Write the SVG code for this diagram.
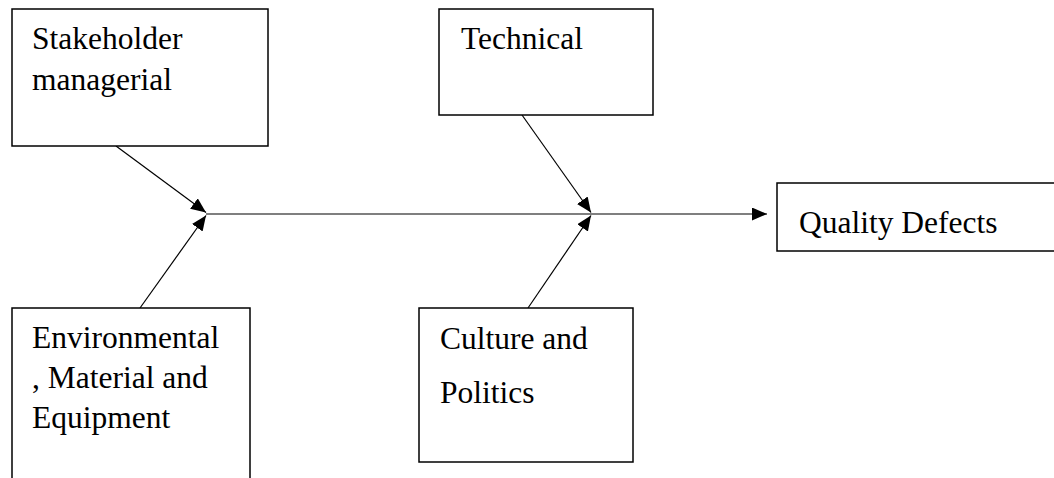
<svg xmlns="http://www.w3.org/2000/svg" width="1054" height="478" viewBox="0 0 1054 478">
  <style>
    .box { fill: #ffffff; stroke: #000000; stroke-width: 1.5; }
    .label { font-family: "Liberation Serif", "Times New Roman", serif; font-size: 31.5px; fill: #000000; }
    .conn { stroke: #000000; stroke-width: 1.2; fill: none; marker-end: url(#arrow); }
  </style>
  <defs>
    <marker id="arrow" markerUnits="userSpaceOnUse" markerWidth="16" markerHeight="14" refX="15" refY="6.5" orient="auto">
      <path d="M0,0 L15,6.5 L0,13 Z" fill="#000000"/>
    </marker>
  </defs>

  <rect width="1054" height="478" fill="#ffffff"/>

  <!-- cause and effect connectors -->
  <g id="connectors">
    <line class="conn" x1="206" y1="214" x2="767" y2="214"/>
    <line class="conn" x1="116" y1="146" x2="206" y2="212.5"/>
    <line class="conn" x1="140" y1="308" x2="206" y2="215.5"/>
    <line class="conn" x1="522" y1="115" x2="591" y2="212.5"/>
    <line class="conn" x1="528" y1="308" x2="591" y2="215.5"/>
  </g>

  <g id="stakeholder">
    <rect class="box" x="12" y="9" width="256" height="137"/>
    <text class="label" x="32" y="49">Stakeholder</text>
    <text class="label" x="32" y="90">managerial</text>
  </g>

  <g id="technical">
    <rect class="box" x="439" y="9" width="214" height="106"/>
    <text class="label" x="461" y="49">Technical</text>
  </g>

  <g id="quality-defects">
    <rect class="box" x="777" y="183" width="290" height="68"/>
    <text class="label" x="799" y="233">Quality Defects</text>
  </g>

  <g id="environmental">
    <rect class="box" x="12" y="308" width="238" height="190"/>
    <text class="label" x="32" y="348">Environmental</text>
    <text class="label" x="32" y="388">, Material and</text>
    <text class="label" x="32" y="428">Equipment</text>
  </g>

  <g id="culture">
    <rect class="box" x="419" y="308" width="214" height="154"/>
    <text class="label" x="440" y="349">Culture and</text>
    <text class="label" x="440" y="403">Politics</text>
  </g>
</svg>
